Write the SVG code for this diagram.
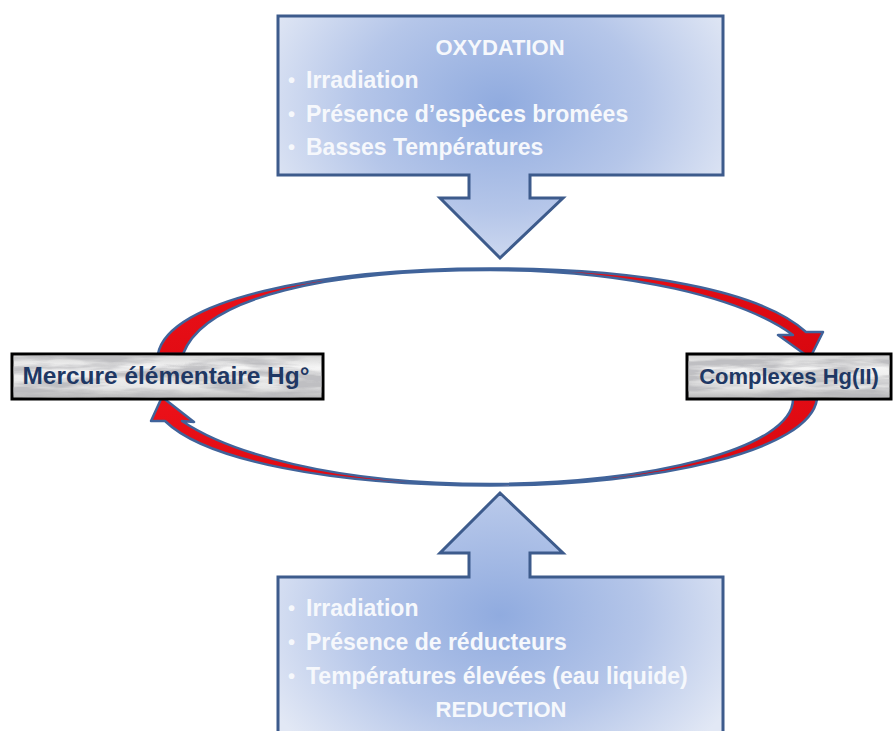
<svg xmlns="http://www.w3.org/2000/svg" width="893" height="731" viewBox="0 0 893 731">
  <defs>
    <radialGradient id="gTop" gradientUnits="userSpaceOnUse" cx="500" cy="105" r="260" gradientTransform="translate(500 105) scale(1 0.75) translate(-500 -105)">
      <stop offset="0" stop-color="#90abdf"/>
      <stop offset="0.55" stop-color="#b5c6e9"/>
      <stop offset="1" stop-color="#e2e8f5"/>
    </radialGradient>
    <radialGradient id="gBot" gradientUnits="userSpaceOnUse" cx="500" cy="615" r="260" gradientTransform="translate(500 615) scale(1 0.75) translate(-500 -615)">
      <stop offset="0" stop-color="#90abdf"/>
      <stop offset="0.55" stop-color="#b5c6e9"/>
      <stop offset="1" stop-color="#e2e8f5"/>
    </radialGradient>
    <linearGradient id="gBox" x1="0" y1="0" x2="0" y2="1">
      <stop offset="0" stop-color="#d2d2d2"/>
      <stop offset="0.3" stop-color="#f5f5f5"/>
      <stop offset="0.75" stop-color="#e6e6e6"/>
      <stop offset="1" stop-color="#b5b5b5"/>
    </linearGradient>
    <linearGradient id="gRed" x1="0" y1="0" x2="1" y2="1">
      <stop offset="0" stop-color="#ec1119"/>
      <stop offset="1" stop-color="#d8070f"/>
    </linearGradient>
    <filter id="marble" x="0" y="0" width="100%" height="100%">
      <feTurbulence type="fractalNoise" baseFrequency="0.014 0.1" numOctaves="4" seed="7" result="n"/>
      <feColorMatrix in="n" type="matrix" values="0 0 0 0 0.48  0 0 0 0 0.48  0 0 0 0 0.5  3.6 0 0 0 -1.4"/>
      <feComposite in2="SourceGraphic" operator="in"/>
    </filter>
  </defs>
  <style>
    .callout { stroke: #3d5b8c; stroke-width: 3; stroke-linejoin: miter; }
    .ctext { font-family: "Liberation Sans", Arial, sans-serif; font-weight: bold; font-size: 23px; fill: #f6f8fc; }
    .bullet { font-family: "Liberation Sans", Arial, sans-serif; font-weight: bold; font-size: 20px; fill: #f6f8fc; }
    .ctitle { font-family: "Liberation Sans", Arial, sans-serif; font-weight: bold; font-size: 22px; fill: #f6f8fc; text-anchor: middle; }
    .arrow { fill: url(#gRed); stroke: #40639a; stroke-width: 2.5; stroke-linejoin: round; }
    .box { fill: url(#gBox); stroke: #000; stroke-width: 3; }
    .tex { fill: #fff; filter: url(#marble); opacity: 0.85; }
    .ntext { font-family: "Liberation Sans", Arial, sans-serif; font-weight: bold; fill: #1f3864; text-anchor: middle; }
  </style>
  <rect width="893" height="731" fill="#ffffff"/>

  <g id="oxydation">
    <path class="callout" fill="url(#gTop)" d="M278,16 H723 V175 H530 V198 H563 L500,258 L440,198 H469 V175 H278 Z"/>
    <text class="ctitle" x="500" y="55">OXYDATION</text>
    <text class="bullet" x="288" y="87">•</text>
    <text class="ctext" x="306" y="88">Irradiation</text>
    <text class="bullet" x="288" y="121">•</text>
    <text class="ctext" x="306" y="122">Présence d’espèces bromées</text>
    <text class="bullet" x="288" y="154">•</text>
    <text class="ctext" x="306" y="155">Basses Températures</text>
  </g>

  <g id="reduction">
    <path class="callout" fill="url(#gBot)" d="M278,745 V577 H469 V553 H440 L500,493 L563,553 H530 V577 H723 V745 Z"/>
    <text class="bullet" x="288" y="615">•</text>
    <text class="ctext" x="306" y="616">Irradiation</text>
    <text class="bullet" x="288" y="649">•</text>
    <text class="ctext" x="306" y="650">Présence de réducteurs</text>
    <text class="bullet" x="288" y="683">•</text>
    <text class="ctext" x="306" y="684">Températures élevées (eau liquide)</text>
    <text class="ctitle" x="501" y="717">REDUCTION</text>
  </g>

  <g id="connectors">
    <path class="arrow" d="M158,354 C168,300 320,268.5 490,268.5 C640,268.5 760,290 806,332 L823,332 L810,358 L778,335 L793,335 C742,298 630,270 490,270 C330,270 205,296 183,354 Z"/>
    <path class="arrow" d="M817,399 C810,450 660,485.5 490,485.5 C330,485.5 205,460 165,421 L151,421 L162,397 L194,422 L182,421 C228,452 330,484 490,484 C650,484 793,448 793,399 Z"/>
  </g>

  <g id="mercure">
    <rect class="box" x="12" y="354" width="311" height="45"/>
    <rect class="tex" x="13.5" y="355.5" width="308" height="42"/>
    <text class="ntext" x="166" y="384" font-size="24" textLength="287" lengthAdjust="spacingAndGlyphs">Mercure élémentaire Hg°</text>
  </g>

  <g id="complexes">
    <rect class="box" x="687" y="354" width="204" height="45"/>
    <rect class="tex" x="688.5" y="355.5" width="201" height="42"/>
    <text class="ntext" x="789" y="384" font-size="22">Complexes Hg(II)</text>
  </g>
</svg>
